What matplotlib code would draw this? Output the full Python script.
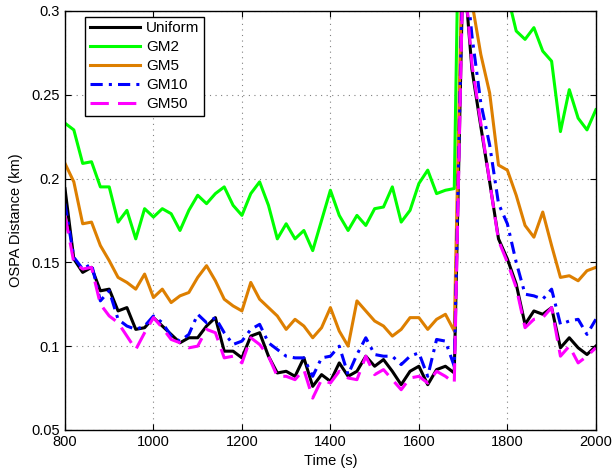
import matplotlib
matplotlib.use('Agg')
import matplotlib.pyplot as plt
import numpy as np

plt.rcParams['font.family'] = ['Liberation Sans', 'DejaVu Sans']

# time axis, one sample every 20 s
time_s = np.arange(800, 2001, 20)

uniform = [0.194, 0.152, 0.144, 0.147, 0.133, 0.134, 0.121, 0.123, 0.110, 0.111,
           0.117, 0.112, 0.107, 0.102, 0.105, 0.105, 0.112, 0.117, 0.097, 0.097,
           0.093, 0.106, 0.108, 0.094, 0.084, 0.085, 0.082, 0.093, 0.076, 0.083,
           0.079, 0.090, 0.082, 0.085, 0.094, 0.088, 0.092, 0.085, 0.077, 0.085,
           0.088, 0.077, 0.086, 0.088, 0.084, 0.330, 0.265, 0.231, 0.198, 0.164,
           0.152, 0.137, 0.113, 0.121, 0.119, 0.123, 0.099, 0.105, 0.099, 0.095,
           0.100]

gm2 = [0.233, 0.229, 0.209, 0.210, 0.195, 0.195, 0.174, 0.181, 0.164, 0.182,
       0.177, 0.182, 0.179, 0.169, 0.181, 0.190, 0.185, 0.191, 0.195, 0.184,
       0.178, 0.191, 0.198, 0.184, 0.164, 0.173, 0.164, 0.169, 0.157, 0.175,
       0.193, 0.178, 0.169, 0.178, 0.172, 0.182, 0.183, 0.195, 0.174, 0.181,
       0.197, 0.205, 0.191, 0.193, 0.194, 0.520, 0.450, 0.400, 0.370, 0.340,
       0.310, 0.288, 0.283, 0.290, 0.276, 0.270, 0.228, 0.253, 0.236, 0.229,
       0.241]

gm5 = [0.209, 0.198, 0.173, 0.174, 0.160, 0.151, 0.141, 0.138, 0.134, 0.143,
       0.129, 0.134, 0.126, 0.130, 0.132, 0.141, 0.148, 0.139, 0.128, 0.124,
       0.121, 0.138, 0.128, 0.123, 0.118, 0.110, 0.116, 0.112, 0.105, 0.111,
       0.123, 0.109, 0.100, 0.127, 0.121, 0.115, 0.112, 0.106, 0.110, 0.117,
       0.117, 0.110, 0.116, 0.119, 0.109, 0.360, 0.305, 0.274, 0.251, 0.208,
       0.205, 0.190, 0.172, 0.165, 0.180, 0.160, 0.141, 0.142, 0.139, 0.145,
       0.147]

gm10 = [0.185, 0.153, 0.146, 0.149, 0.127, 0.133, 0.116, 0.112, 0.110, 0.112,
        0.118, 0.114, 0.106, 0.103, 0.107, 0.119, 0.114, 0.117, 0.108, 0.101,
        0.103, 0.110, 0.113, 0.102, 0.098, 0.094, 0.093, 0.093, 0.082, 0.093,
        0.094, 0.100, 0.083, 0.095, 0.105, 0.095, 0.094, 0.094, 0.089, 0.094,
        0.096, 0.082, 0.104, 0.103, 0.088, 0.340, 0.285, 0.245, 0.220, 0.185,
        0.173, 0.150, 0.131, 0.130, 0.128, 0.134, 0.113, 0.115, 0.116, 0.107,
        0.116]

gm50 = [0.178, 0.150, 0.146, 0.147, 0.125, 0.118, 0.114, 0.106, 0.098, 0.108,
        0.117, 0.111, 0.104, 0.102, 0.099, 0.100, 0.110, 0.108, 0.093, 0.094,
        0.090, 0.105, 0.101, 0.094, 0.082, 0.082, 0.080, 0.086, 0.069, 0.080,
        0.078, 0.085, 0.081, 0.080, 0.094, 0.083, 0.086, 0.080, 0.074, 0.081,
        0.082, 0.078, 0.085, 0.082, 0.078, 0.330, 0.268, 0.233, 0.198, 0.163,
        0.150, 0.135, 0.111, 0.116, 0.117, 0.123, 0.094, 0.100, 0.090, 0.094,
        0.099]

fig = plt.figure(figsize=(6.13, 4.73), dpi=100)
ax = fig.add_axes([0.106, 0.091, 0.866, 0.886])

ax.plot(time_s, uniform, color='black', lw=2.2, label='Uniform')
ax.plot(time_s, gm2, color='#00ff00', lw=2.2, label='GM2')
ax.plot(time_s, gm5, color='#dd7f00', lw=2.2, label='GM5')
ax.plot(time_s, gm10, color='#0000ff', lw=2.2, ls=(0, (4, 2, 1, 2)), label='GM10')
ax.plot(time_s, gm50, color='#ff00ff', lw=2.2, ls=(0, (6, 3)), label='GM50')

ax.set_xlim(800, 2000)
ax.set_ylim(0.05, 0.3)
ax.set_xticks([800, 1000, 1200, 1400, 1600, 1800, 2000])
ax.set_yticks([0.05, 0.1, 0.15, 0.2, 0.25, 0.3])
ax.set_yticklabels(['0.05', '0.1', '0.15', '0.2', '0.25', '0.3'])
ax.grid(True, color='#808080', ls=(0, (1, 4)), lw=0.8)
ax.tick_params(direction='in', top=True, right=True, labelsize=10.5, length=4)
for s in ax.spines.values():
    s.set_linewidth(1.0)

ax.set_xlabel('Time (s)', fontsize=10.5, labelpad=4)
ax.set_ylabel('OSPA Distance (km)', fontsize=10.5, labelpad=6)

leg = ax.legend(loc='upper left', bbox_to_anchor=(0.0377, 0.986), borderaxespad=0,
                fontsize=11, fancybox=False, edgecolor='black', framealpha=1,
                handlelength=3.3, borderpad=0.3, labelspacing=0.33, handletextpad=0.4)
leg.get_frame().set_linewidth(1.0)

fig.savefig('out.png', dpi=100)
